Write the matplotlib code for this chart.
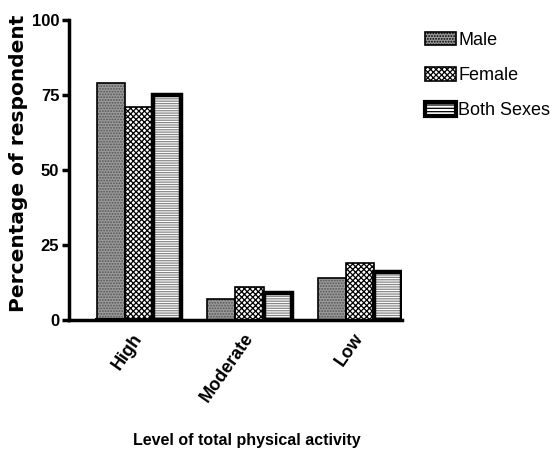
import numpy as np
import matplotlib.pyplot as plt

plt.rcParams['font.family'] = ['Liberation Sans', 'DejaVu Sans']
plt.rcParams['hatch.linewidth'] = 0.9

categories = ['High', 'Moderate', 'Low']
male = [79, 7, 14]
female = [71, 11, 19]
both = [75, 9, 16]

fig = plt.figure(figsize=(5.52, 4.59), dpi=100)
ax = fig.add_axes([0.125, 0.303, 0.603, 0.653])

x = np.arange(len(categories))
w = 0.255

# fill + hatch first, then black outlines on top
ax.bar(x - w, male, w, color='#9a9a9a', edgecolor='#555555', hatch='......',
       linewidth=0)
ax.bar(x, female, w, color='white', edgecolor='black', hatch='xxxxxx',
       linewidth=0)
ax.bar(x + w, both, w, color='white', edgecolor='#888888', hatch='-------',
       linewidth=0)
ax.bar(x - w, male, w, fill=False, edgecolor='black', linewidth=1.2)
ax.bar(x, female, w, fill=False, edgecolor='black', linewidth=1.2)
ax.bar(x + w, both, w, fill=False, edgecolor='black', linewidth=3.2)

# legend handles
h1 = ax.bar([0], [0], color='#9a9a9a', edgecolor='black', hatch='......', linewidth=1.2)
h2 = ax.bar([0], [0], color='white', edgecolor='black', hatch='xxxxxx', linewidth=1.2)
h3 = ax.bar([0], [0], color='white', edgecolor='black', hatch='-----', linewidth=3)

ax.set_xlim(-0.636, 2.38)
ax.set_ylim(0, 100)
ax.set_yticks([0, 25, 50, 75, 100])
ax.set_xticks(x)
ax.set_xticklabels(categories, rotation=55, ha='right', va='center',
                   rotation_mode='anchor', fontweight='bold', fontsize=13)
for lab in ax.get_yticklabels():
    lab.set_fontweight('bold')
    lab.set_fontsize(12)

ax.spines['top'].set_visible(False)
ax.spines['right'].set_visible(False)
ax.spines['left'].set_linewidth(2.5)
ax.spines['bottom'].set_linewidth(2.5)
ax.tick_params(axis='y', length=5, width=2.5, pad=2)
ax.tick_params(axis='x', length=0, pad=11)

fig.text(0.033, 0.645, 'Percentage of respondent', rotation=90, ha='center',
         va='center', fontweight='bold', fontsize=14.5, family='DejaVu Sans')
fig.text(0.447, 0.03, 'Level of total physical activity', ha='center',
         fontweight='bold', fontsize=11.5)

ax.legend([h1, h2, h3], ['Male', 'Female', 'Both Sexes'],
          loc='upper left', bbox_to_anchor=(0.77, 0.93),
          bbox_transform=fig.transFigure, frameon=False,
          fontsize=13,
          handlelength=1.7, handleheight=0.75, handletextpad=0.15,
          labelspacing=1.0, borderaxespad=0, borderpad=0)

fig.savefig('out.png', dpi=100)
